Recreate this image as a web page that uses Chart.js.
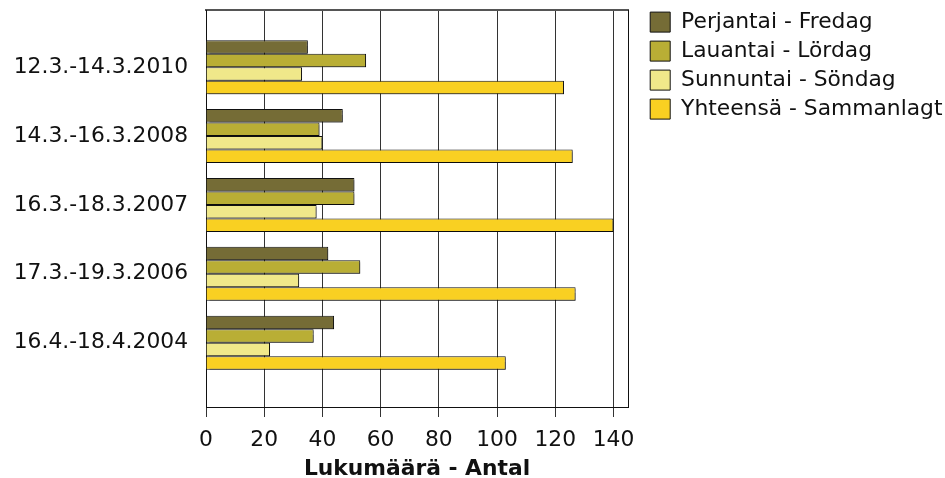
<!DOCTYPE html>
<html lang="fi">
<head>
    <meta charset="UTF-8">
    <title>Lukumäärä - Antal</title>
    <script src="https://cdn.jsdelivr.net/npm/chart.js"></script>
    <style>
        body {
            margin: 0;
            background: white;
        }
        #wrap {
            width: 945px;
            height: 478px;
        }
    </style>
</head>
<body>
    <div id="wrap">
        <canvas id="chart" width="945" height="478"></canvas>
    </div>
    <script>
        const categories = ["12.3.-14.3.2010", "14.3.-16.3.2008", "16.3.-18.3.2007", "17.3.-19.3.2006", "16.4.-18.4.2004"];
        const seriesNames = ["Perjantai - Fredag", "Lauantai - Lördag", "Sunnuntai - Söndag", "Yhteensä - Sammanlagt"];
        const friday = [35, 47, 51, 42, 44];
        const saturday = [55, 39, 51, 53, 37];
        const sunday = [33, 40, 38, 32, 22];
        const total = [123, 126, 140, 127, 103];
        const xTicks = [0, 20, 40, 60, 80, 100, 120, 140];
        const colors = ["#756c36", "#b9ae35", "#f0e88a", "#f9d022"];

        const font = { family: "Verdana, 'DejaVu Sans', sans-serif", size: 21.8 };

        function toPoints(values) {
            return values.map((v, i) => ({ x: v, y: i }));
        }

        const shadowPlugin = {
            id: "barShadow",
            beforeDatasetsDraw(chart) {
                const ctx = chart.ctx;
                ctx.save();
                ctx.shadowColor = "rgba(0, 0, 0, 0.35)";
                ctx.shadowOffsetX = 2;
                ctx.shadowOffsetY = 2;
                ctx.shadowBlur = 1;
            },
            afterDatasetsDraw(chart) {
                chart.ctx.restore();
            }
        };

        // the legend on the right gets squeezed by the layout, so give it room
        const legendWidthPlugin = {
            id: "legendWidth",
            beforeLayout(chart) {
                const lg = chart.legend;
                if (lg && !lg._wide) {
                    const fit = lg.fit.bind(lg);
                    lg.fit = function () {
                        fit();
                        this.width = 302;
                    };
                    lg._wide = true;
                }
            }
        };

        const allSeries = [friday, saturday, sunday, total];

        new Chart(document.getElementById("chart"), {
            type: "bar",
            data: {
                datasets: allSeries.map((vals, i) => ({
                    label: seriesNames[i],
                    data: toPoints(vals),
                    backgroundColor: colors[i],
                    borderColor: "#111",
                    borderWidth: 1,
                    barPercentage: 1,
                    categoryPercentage: 0.785
                }))
            },
            options: {
                indexAxis: "y",
                responsive: false,
                animation: false,
                devicePixelRatio: 1,
                layout: { padding: { top: 4, left: 0, right: 0, bottom: 0 } },
                plugins: {
                    tooltip: { enabled: false },
                    legend: {
                        position: "right",
                        align: "start",
                        labels: {
                            font: font,
                            color: "#111",
                            boxWidth: 20,
                            boxHeight: 20,
                            padding: 7.2
                        }
                    }
                },
                scales: {
                    x: {
                        type: "linear",
                        position: "bottom",
                        min: 0,
                        max: 145,
                        afterBuildTicks(scale) {
                            scale.ticks = xTicks.map(v => ({ value: v }));
                        },
                        afterFit(scale) {
                            scale.height = 71;
                        },
                        ticks: { font: font, color: "#111", padding: 10 },
                        grid: { color: "#333", lineWidth: 1, tickLength: 10 },
                        border: { color: "#111", width: 1 },
                        title: {
                            display: true,
                            text: "Lukumäärä - Antal",
                            font: { family: font.family, size: 21.8, weight: "bold", lineHeight: 0.83 },
                            color: "#111",
                            padding: 0
                        }
                    },
                    x2: {
                        type: "linear",
                        position: "top",
                        afterFit(scale) {
                            scale.height = 6;
                        },
                        ticks: { display: false },
                        grid: { display: false, drawTicks: false },
                        border: { color: "#555", width: 2 }
                    },
                    y: {
                        type: "linear",
                        position: "left",
                        reverse: true,
                        offset: false,
                        bounds: "data",
                        min: -0.831,
                        max: 4.934,
                        afterBuildTicks(scale) {
                            scale.ticks = categories.map((c, i) => ({ value: i }));
                        },
                        afterFit(scale) {
                            scale.width = 206;
                            scale.paddingTop = 0;
                            scale.paddingBottom = 0;
                        },
                        ticks: {
                            font: font,
                            color: "#111",
                            padding: 18,
                            callback: value => categories[value] ?? ""
                        },
                        grid: { display: false, drawTicks: false, offset: false },
                        border: { color: "#111", width: 1 }
                    },
                    y2: {
                        type: "linear",
                        position: "right",
                        afterFit(scale) {
                            scale.width = 15;
                            scale.paddingTop = 0;
                            scale.paddingBottom = 0;
                        },
                        ticks: { display: false },
                        grid: { display: false, drawTicks: false },
                        border: { color: "#111", width: 1 }
                    }
                }
            },
            plugins: [shadowPlugin, legendWidthPlugin]
        });
    </script>
</body>
</html>
